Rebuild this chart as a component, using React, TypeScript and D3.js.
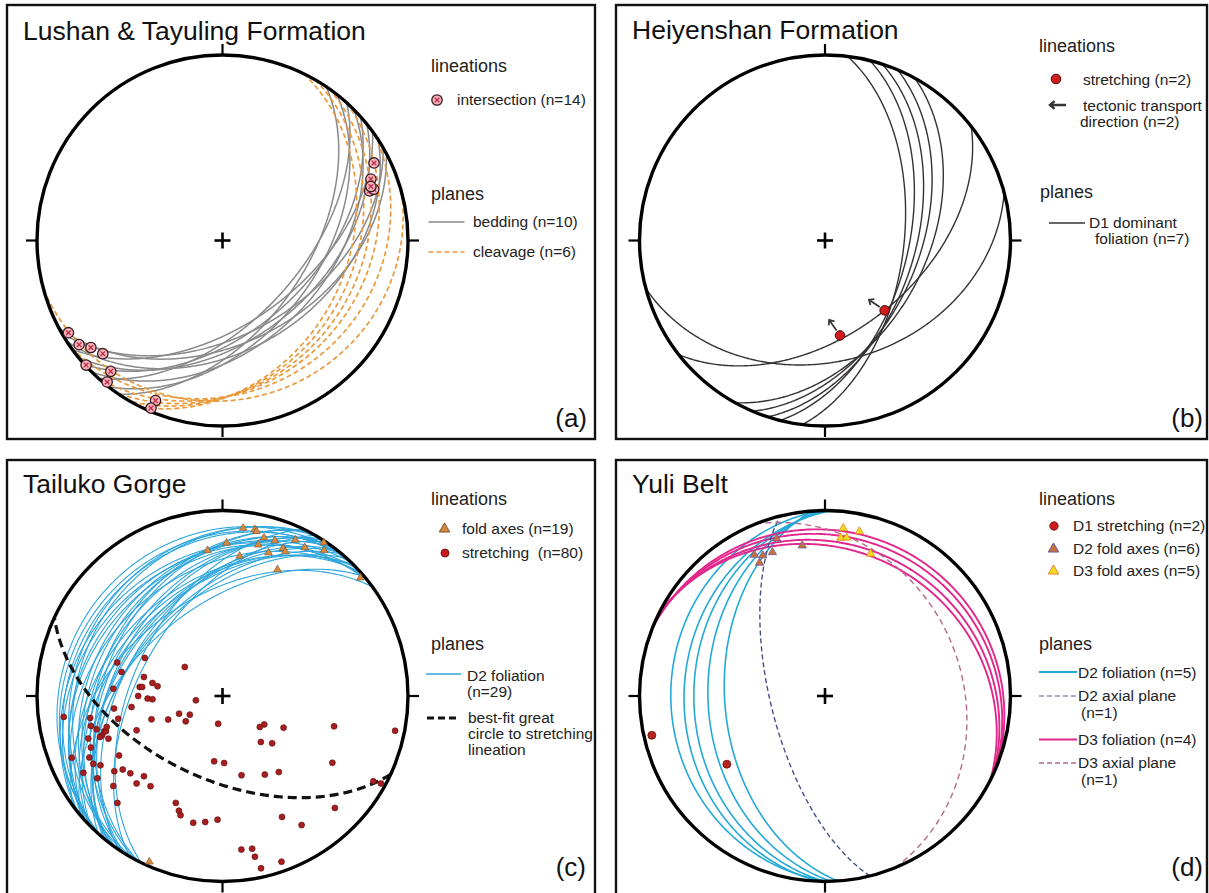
import React from 'react';
import * as d3 from 'd3';

const FONT = "'Liberation Sans', Arial, Helvetica, sans-serif";
const R = 185.5;
const RAD = Math.PI / 180;

// ---- (a) Lushan & Tayuling Formation ----
// planes: [dip direction, dip]
const lushanBedding: [number, number][] = [
  [124, 52], [128, 47], [132, 55], [135, 43], [138, 50],
  [141, 46], [144, 53], [147, 41], [150, 48], [152, 44],
];
const lushanCleavage: [number, number][] = [
  [116, 33], [120, 30], [125, 27], [132, 24], [145, 20], [165, 15],
];
// lineations: [trend, plunge]
const lushanIntersections: [number, number][] = [
  [62.9, 9.1], [67.5, 14.5], [71.4, 17.4], [71.3, 15], [70, 16],
  [239.1, 3.6], [234, 5], [230.9, 9.4], [226.6, 12.2], [227.6, 0.5],
  [220.5, 8], [219.2, 1.8], [202.7, 7.2], [203.1, 2],
];

// ---- (b) Heiyenshan Formation ----
const heiyenFoliation: [number, number][] = [
  [97, 55], [104, 53], [108, 50], [113, 48], [119, 45], [142, 49], [165, 35],
];
const heiyenStretching: [number, number][] = [[171, 47], [139.5, 49]];
const heiyenTransport = [325, 304]; // azimuth of transport arrows

// ---- (c) Tailuko Gorge ----
const tailukoFoliation: [number, number][] = [
  [296, 50], [300, 53], [304, 47], [308, 44], [312, 49], [316, 41], [320, 51], [324, 46],
  [298, 35], [302, 42], [306, 31], [310, 48], [314, 28], [318, 39], [322, 25], [297, 37],
  [301, 22], [305, 33], [309, 45], [313, 19], [317, 30], [321, 27], [299, 24], [303, 40],
  [307, 36], [311, 21], [315, 43], [319, 34], [310, 16],
];
const tailukoBestFit: [number, number] = [205, 53];
const tailukoFoldAxes: [number, number][] = [
  [7.0, 9.7], [11.0, 9.4], [11.7, 10.3], [14.7, 12.8], [18.6, 12.6], [25.0, 7.9], [33.4, 1],
  [34.9, 4.8], [354.1, 22.2], [1.5, 18.6], [7.0, 25], [17.8, 20], [22.3, 15], [23.5, 16.2],
  [23.5, 26.6], [49.4, 2.4], [203.8, 2.6], [13.3, 17.4], [29, 9.4],
];
const tailukoStretching: [number, number][] = [
  [307.6, 69.1], [296.1, 51.5], [287.6, 40.2], [283.4, 43.4], [283.6, 54.1], [276.2, 53.0], [276.4, 54.1],
  [280.5, 58.5], [278.5, 61.0], [273.8, 40.7], [270, 52.5], [268, 56.8], [267.3, 59.0], [260.8, 78.2],
  [263.1, 49.1], [263.4, 40.8], [247.8, 69.4], [240.3, 73.5], [235.4, 70.4], [246.5, 63.9], [251.8, 56.9],
  [257.7, 42.0], [262.5, 14.8], [260.6, 28.5], [257.2, 28.1], [188.9, 77.7], [255.2, 30.5], [253.4, 33.9],
  [251.9, 32.3], [253.2, 34.7], [248.2, 48.7], [129.7, 68.7], [124.2, 67.8], [117.4, 59.6], [105.2, 37.7],
  [101.4, 5.7], [140.2, 63.6], [133.6, 59.7], [248.6, 24.8], [247.7, 13.2], [245.2, 22.0], [242.3, 22.4],
  [240.4, 25.3], [240.1, 35.9], [187.3, 60.9], [178.6, 60.4], [121.3, 31.3], [235.2, 29.7], [233.6, 33.6],
  [230, 35.4], [224.4, 39.3], [224.5, 34.3], [218.6, 37.8], [230.5, 24.7], [241.1, 15.4], [236.7, 20.4],
  [166.5, 53.8], [151.7, 50.2], [143.5, 47.7], [119.5, 7.3], [118.9, 2.7], [224.5, 20.3], [203.6, 37.2],
  [200.8, 34.2], [199.4, 32.4], [193, 30.5], [187.8, 32.0], [182.3, 33.7], [153.8, 28.2], [148.5, 19.5],
  [134.9, 15.6], [173.0, 17.7], [169.0, 17.3], [168.6, 12.6], [167.4, 5.4], [160.4, 5.8], [251.5, 31.0],
  [252.4, 25.1], [249.5, 34.7], [255, 35.6],
];

// ---- (d) Yuli Belt ----
const yuliD2Foliation: [number, number][] = [[266, 45], [268, 37], [270, 30], [272, 25], [269, 18]];
const yuliD2Axial: [number, number][] = [[256, 66]];
const yuliD3Foliation: [number, number][] = [[21, 12], [23, 15], [25, 19], [27, 22]];
const yuliD3Axial: [number, number][] = [[68, 27]];
const yuliD1Stretching: [number, number][] = [[257.2, 4.8], [235.2, 35.8]];
const yuliD2FoldAxes: [number, number][] = [
  [333.4, 16], [333.8, 21.1], [339.9, 18.6], [342.9, 12.3], [351.4, 19.1], [336.1, 18.3],
];
const yuliD3FoldAxes: [number, number][] = [
  [6.2, 9.9], [11.8, 10.3], [5.7, 15.4], [7.8, 15], [17.8, 20.6],
];

// lower hemisphere, equal-area
function projectLine(trend: number, plunge: number): [number, number] {
  const r = Math.SQRT2 * Math.sin(((90 - plunge) / 2) * RAD);
  return [r * Math.sin(trend * RAD), r * Math.cos(trend * RAD)];
}

function greatCircle(dd: number, dip: number): [number, number][] {
  return d3.range(-90, 90.01, 0.5).map((a) => {
    const p = Math.atan(Math.tan(dip * RAD) * Math.cos(a * RAD)) / RAD;
    return projectLine(dd + a, p);
  });
}

function makeScales(cx: number, cy: number) {
  const x = d3.scaleLinear().domain([-1, 1]).range([cx - R, cx + R]);
  const y = d3.scaleLinear().domain([-1, 1]).range([cy + R, cy - R]);
  const line = d3.line<[number, number]>().x((d) => x(d[0])).y((d) => y(d[1]));
  const pt = (t: number, p: number) => {
    const [u, v] = projectLine(t, p);
    return [x(u), y(v)];
  };
  return { x, y, line, pt };
}

const triangle = (size: number) => d3.symbol().type(d3.symbolTriangle).size(size)() || '';

const Frame = ({ x0, y0, x1, y1 }: { x0: number; y0: number; x1: number; y1: number }) => (
  <rect x={x0} y={y0} width={x1 - x0} height={y1 - y0} fill="#fff" stroke="#111" strokeWidth={2.4} />
);

const Net = ({ cx, cy }: { cx: number; cy: number }) => (
  <g stroke="#000">
    <circle cx={cx} cy={cy} r={R} fill="none" strokeWidth={3.4} />
    <g strokeWidth={2.2}>
      <line x1={cx} x2={cx} y1={cy - R} y2={cy - R - 11} />
      <line x1={cx} x2={cx} y1={cy + R} y2={cy + R + 11} />
      <line x1={cx - R} x2={cx - R - 11} y1={cy} y2={cy} />
      <line x1={cx + R} x2={cx + R + 11} y1={cy} y2={cy} />
    </g>
    <g strokeWidth={2.6}>
      <line x1={cx - 8} x2={cx + 8} y1={cy} y2={cy} />
      <line x1={cx} x2={cx} y1={cy - 8} y2={cy + 8} />
    </g>
  </g>
);

const IntersectionMark = ({ x, y }: { x: number; y: number }) => (
  <g transform={`translate(${x},${y})`}>
    <circle r={5.2} fill="#f3b6be" stroke="#3b1a1e" strokeWidth={1.3} />
    <path d="M-2.3,-2.3L2.3,2.3M-2.3,2.3L2.3,-2.3" stroke="#c42a45" strokeWidth={1.3} />
  </g>
);

const Title = ({ x, y, children }: { x: number; y: number; children: React.ReactNode }) => (
  <text x={x} y={y} fontSize={26.5} fill="#111">{children}</text>
);
const Head = ({ x, y, children }: { x: number; y: number; children: React.ReactNode }) => (
  <text x={x} y={y} fontSize={18} fill="#222">{children}</text>
);
const Item = ({ x, y, children }: { x: number; y: number; children: React.ReactNode }) => (
  <text x={x} y={y} fontSize={15.5} fill="#222">{children}</text>
);
const Letter = ({ x, y, children }: { x: number; y: number; children: React.ReactNode }) => (
  <text x={x} y={y} fontSize={26} textAnchor="end" fill="#111">{children}</text>
);

function PanelA() {
  const cx = 222.5, cy = 240.5;
  const { line, pt } = makeScales(cx, cy);
  return (
    <g>
      <Frame x0={7} y0={5} x1={595} y1={439} />
      <Title x={23} y={40}>Lushan &amp; Tayuling Formation</Title>
      {lushanBedding.map(([dd, dip], i) => (
        <path key={'bd' + i} d={line(greatCircle(dd, dip)) || ''} fill="none" stroke="#8a8a8a" strokeWidth={1.5} />
      ))}
      {lushanCleavage.map(([dd, dip], i) => (
        <path key={'cl' + i} d={line(greatCircle(dd, dip)) || ''} fill="none" stroke="#e89a3c"
          strokeWidth={1.7} strokeDasharray="5 3" />
      ))}
      <Net cx={cx} cy={cy} />
      {lushanIntersections.map(([t, p], i) => {
        const [px, py] = pt(t, p);
        return <IntersectionMark key={'im' + i} x={px} y={py} />;
      })}
      <Head x={431} y={72}>lineations</Head>
      <IntersectionMark x={437} y={100} />
      <Item x={457} y={105}>intersection (n=14)</Item>
      <Head x={431} y={200}>planes</Head>
      <line x1={428.5} x2={464.5} y1={222} y2={222} stroke="#8a8a8a" strokeWidth={1.6} />
      <Item x={473} y={227}>bedding (n=10)</Item>
      <line x1={428.5} x2={464.5} y1={252} y2={252} stroke="#e89a3c" strokeWidth={1.7} strokeDasharray="5 3" />
      <Item x={473} y={257}>cleavage (n=6)</Item>
      <Letter x={587} y={427}>(a)</Letter>
    </g>
  );
}

function Arrow({ x, y, az, from, len, head, w }: { x: number; y: number; az: number; from: number; len: number; head: number; w: number }) {
  const dx = Math.sin(az * RAD), dy = -Math.cos(az * RAD);
  const x0 = x + dx * from, y0 = y + dy * from;
  const x1 = x + dx * (from + len), y1 = y + dy * (from + len);
  const a1 = (az + 180 - 40) * RAD, a2 = (az + 180 + 40) * RAD;
  const d = `M${x0},${y0}L${x1},${y1}M${x1 + Math.sin(a1) * head},${y1 - Math.cos(a1) * head}L${x1},${y1}L${x1 + Math.sin(a2) * head},${y1 - Math.cos(a2) * head}`;
  return <path d={d} fill="none" stroke="#333" strokeWidth={w} />;
}

function PanelB() {
  const cx = 825, cy = 240.5;
  const { line, pt } = makeScales(cx, cy);
  return (
    <g>
      <Frame x0={616} y0={5} x1={1207} y1={439} />
      <Title x={632} y={39}>Heiyenshan Formation</Title>
      {heiyenFoliation.map(([dd, dip], i) => (
        <path key={'f' + i} d={line(greatCircle(dd, dip)) || ''} fill="none" stroke="#363232" strokeWidth={1.4} />
      ))}
      <Net cx={cx} cy={cy} />
      {heiyenStretching.map(([t, p], i) => {
        const [px, py] = pt(t, p);
        return (
          <g key={'s' + i}>
            <Arrow x={px} y={py} az={heiyenTransport[i]} from={6} len={13} head={5.5} w={1.7} />
            <circle cx={px} cy={py} r={4.8} fill="#d01c1c" stroke="#4a0a0a" strokeWidth={1} />
          </g>
        );
      })}
      <Head x={1039} y={52}>lineations</Head>
      <circle cx={1056} cy={79} r={4.8} fill="#d01c1c" stroke="#4a0a0a" strokeWidth={1} />
      <Item x={1083} y={85}>stretching (n=2)</Item>
      <Arrow x={1066} y={105} az={270} from={0} len={16} head={6} w={2.4} />
      <Item x={1083} y={111}>tectonic transport</Item>
      <Item x={1080} y={127}>direction (n=2)</Item>
      <Head x={1040} y={198}>planes</Head>
      <line x1={1049} x2={1085} y1={223} y2={223} stroke="#363232" strokeWidth={1.5} />
      <Item x={1089} y={228}>D1 dominant</Item>
      <Item x={1095} y={244}>foliation (n=7)</Item>
      <Letter x={1203} y={427}>(b)</Letter>
    </g>
  );
}

function PanelC() {
  const cx = 222.5, cy = 696;
  const { line, pt } = makeScales(cx, cy);
  const tri = triangle(26);
  return (
    <g>
      <Frame x0={7} y0={460} x1={595} y1={905} />
      <Title x={23} y={493}>Tailuko Gorge</Title>
      {tailukoFoliation.map(([dd, dip], i) => (
        <path key={'f' + i} d={line(greatCircle(dd, dip)) || ''} fill="none" stroke="#2ea6dd" strokeWidth={1.1} />
      ))}
      <path d={line(greatCircle(tailukoBestFit[0], tailukoBestFit[1])) || ''} fill="none" stroke="#111"
        strokeWidth={3.2} strokeDasharray="9 5" />
      <Net cx={cx} cy={cy} />
      {tailukoStretching.map(([t, p], i) => {
        const [px, py] = pt(t, p);
        return <circle key={'s' + i} cx={px} cy={py} r={3} fill="#a81d1d" stroke="#5a0d0d" strokeWidth={0.6} />;
      })}
      {tailukoFoldAxes.map(([t, p], i) => {
        const [px, py] = pt(t, p);
        return <path key={'t' + i} d={tri} transform={`translate(${px},${py})`} fill="#d88a3c" stroke="#7a5030" strokeWidth={0.6} />;
      })}
      <Head x={431} y={505}>lineations</Head>
      <path d={triangle(48)} transform="translate(444.5,529)" fill="#d88a3c" stroke="#5a3a20" strokeWidth={0.8} />
      <Item x={462} y={534}>fold axes (n=19)</Item>
      <circle cx={445} cy={553} r={4} fill="#c81a1a" stroke="#5a0d0d" strokeWidth={0.8} />
      <Item x={462} y={558}>stretching{'\u00A0\u00A0'}(n=80)</Item>
      <Head x={431} y={650}>planes</Head>
      <line x1={426} x2={461} y1={674} y2={674} stroke="#2ea6dd" strokeWidth={1.6} />
      <Item x={467} y={681}>D2 foliation</Item>
      <Item x={467} y={697}>(n=29)</Item>
      <line x1={427} x2={460} y1={718} y2={718} stroke="#111" strokeWidth={3} strokeDasharray="7 4" />
      <Item x={468} y={723}>best-fit great</Item>
      <Item x={468} y={739}>circle to stretching</Item>
      <Item x={468} y={755}>lineation</Item>
      <Letter x={586} y={876}>(c)</Letter>
    </g>
  );
}

function PanelD() {
  const cx = 825, cy = 696;
  const { line, pt } = makeScales(cx, cy);
  const tri = triangle(30);
  return (
    <g>
      <Frame x0={616} y0={460} x1={1207} y1={905} />
      <Title x={632} y={493}>Yuli Belt</Title>
      {yuliD2Foliation.map(([dd, dip], i) => (
        <path key={'b' + i} d={line(greatCircle(dd, dip)) || ''} fill="none" stroke="#23a9d6" strokeWidth={1.6} />
      ))}
      {yuliD3Foliation.map(([dd, dip], i) => (
        <path key={'p' + i} d={line(greatCircle(dd, dip)) || ''} fill="none" stroke="#e2268c" strokeWidth={1.9} />
      ))}
      {yuliD2Axial.map(([dd, dip], i) => (
        <path key={'a2' + i} d={line(greatCircle(dd, dip)) || ''} fill="none" stroke="#48508a" strokeWidth={1.4} strokeDasharray="5 3" />
      ))}
      {yuliD3Axial.map(([dd, dip], i) => (
        <path key={'a3' + i} d={line(greatCircle(dd, dip)) || ''} fill="none" stroke="#b36a90" strokeWidth={1.4} strokeDasharray="6 4" />
      ))}
      <Net cx={cx} cy={cy} />
      {yuliD1Stretching.map(([t, p], i) => {
        const [px, py] = pt(t, p);
        return <circle key={'s' + i} cx={px} cy={py} r={4} fill="#b3261e" stroke="#6a1010" strokeWidth={0.8} />;
      })}
      {yuliD2FoldAxes.map(([t, p], i) => {
        const [px, py] = pt(t, p);
        return <path key={'t2' + i} d={tri} transform={`translate(${px},${py})`} fill="#c8703a" stroke="#6a5a9a" strokeWidth={0.8} />;
      })}
      {yuliD3FoldAxes.map(([t, p], i) => {
        const [px, py] = pt(t, p);
        return <path key={'t3' + i} d={tri} transform={`translate(${px},${py})`} fill="#f5d820" stroke="#e08a30" strokeWidth={0.8} />;
      })}
      <Head x={1039} y={505}>lineations</Head>
      <circle cx={1054} cy={526} r={4.2} fill="#d01c1c" stroke="#5a0d0d" strokeWidth={0.8} />
      <Item x={1073} y={531}>D1 stretching (n=2)</Item>
      <path d={triangle(48)} transform="translate(1053.5,549)" fill="#c8703a" stroke="#6a5a9a" strokeWidth={1} />
      <Item x={1073} y={554}>D2 fold axes (n=6)</Item>
      <path d={triangle(48)} transform="translate(1053.5,571)" fill="#f5d820" stroke="#e08a30" strokeWidth={1} />
      <Item x={1073} y={576}>D3 fold axes (n=5)</Item>
      <Head x={1039} y={650}>planes</Head>
      <line x1={1039} x2={1077} y1={672} y2={672} stroke="#23a9d6" strokeWidth={1.8} />
      <Item x={1078} y={678}>D2 foliation (n=5)</Item>
      <line x1={1039} x2={1077} y1={696} y2={696} stroke="#8a8cc0" strokeWidth={1.4} strokeDasharray="5 3" />
      <Item x={1078} y={701}>D2 axial plane</Item>
      <Item x={1081} y={718}>(n=1)</Item>
      <line x1={1039} x2={1077} y1={739.5} y2={739.5} stroke="#e2268c" strokeWidth={1.9} />
      <Item x={1078} y={745}>D3 foliation (n=4)</Item>
      <line x1={1039} x2={1077} y1={763} y2={763} stroke="#b36a90" strokeWidth={1.4} strokeDasharray="5 3" />
      <Item x={1078} y={768}>D3 axial plane</Item>
      <Item x={1081} y={785}>(n=1)</Item>
      <Letter x={1203} y={876}>(d)</Letter>
    </g>
  );
}

export default function App() {
  return (
    <svg width={1209} height={893} fontFamily={FONT}
      style={{ position: 'absolute', left: 0, top: 0, display: 'block', background: '#fff' }}>
      <rect width={1209} height={893} fill="#fff" />
      <PanelA />
      <PanelB />
      <PanelC />
      <PanelD />
    </svg>
  );
}
